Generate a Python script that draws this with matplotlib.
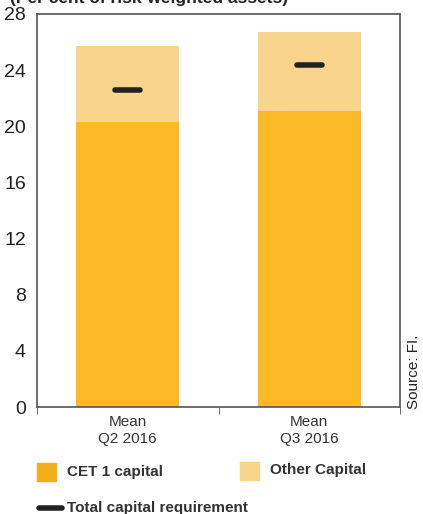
import matplotlib
matplotlib.use("Agg")
import matplotlib.pyplot as plt
from matplotlib.patches import Rectangle
from matplotlib.lines import Line2D

categories = ["Mean\nQ2 2016", "Mean\nQ3 2016"]
cet1 = [20.3, 21.1]
other = [5.4, 5.6]
requirement = [22.6, 24.4]

c_cet1 = "#FBB923"
c_other = "#F8D48C"
fam = ["Liberation Sans", "DejaVu Sans"]

fig = plt.figure(figsize=(4.23, 5.14), dpi=100)
ax = fig.add_axes([37 / 423, 107 / 514, 363 / 423, 393 / 514])

x = [0, 1]
ax.bar(x, cet1, width=0.57, color=c_cet1, zorder=2)
ax.bar(x, other, width=0.57, bottom=cet1, color=c_other, zorder=2)
for xi, r in zip(x, requirement):
    ax.plot([xi - 0.07, xi + 0.07], [r, r], color="#222222", lw=4,
            solid_capstyle="round", zorder=3)

ax.set_xlim(-0.5, 1.5)
ax.set_ylim(0, 28)
ax.set_yticks(range(0, 29, 4))
ax.set_xticks(x)
ax.set_xticklabels(categories, family=fam, fontsize=11, color="#333333")
ax.tick_params(axis="x", length=0, pad=6)
ax.set_xticks([-0.5, 0.5, 1.5], minor=True)
ax.tick_params(axis="x", which="minor", length=5, color="#555555", direction="out")
ax.tick_params(axis="y", length=0, labelsize=14, pad=8, labelcolor="#222222")
for lab in ax.get_yticklabels():
    lab.set_family(fam)
for s in ax.spines.values():
    s.set_color("#555555")
    s.set_linewidth(1.2)

# source on right
fig.text(414 / 423, 1 - 372 / 514, "Source: FI.", rotation=90, ha="center", va="center",
         fontsize=11, family=fam, color="#222222")

# title, cut off at the top like the original
fig.text(10 / 423, 1 + 1 / 514, "(Per cent of risk-weighted assets)", ha="left", va="center",
         fontsize=12.5, fontweight="bold", family=fam, color="#222222")

# legend
fig.patches.append(Rectangle((37 / 423, 1 - 481 / 514), 19 / 423, 18 / 514,
                             transform=fig.transFigure, color="#F0B016"))
fig.text(67 / 423, 1 - 472 / 514, "CET 1 capital", ha="left", va="center",
         fontsize=11, fontweight="bold", family=fam, color="#333333")
fig.patches.append(Rectangle((240 / 423, 1 - 480 / 514), 19 / 423, 18 / 514,
                             transform=fig.transFigure, color=c_other))
fig.text(270 / 423, 1 - 470 / 514, "Other Capital", ha="left", va="center",
         fontsize=11, fontweight="bold", family=fam, color="#333333")
fig.lines.append(Line2D([39 / 423, 62 / 423], [1 - 508 / 514, 1 - 508 / 514],
                        transform=fig.transFigure, color="#222222", lw=4,
                        solid_capstyle="round"))
fig.text(67 / 423, 1 - 508 / 514, "Total capital requirement", ha="left", va="center",
         fontsize=11, fontweight="bold", family=fam, color="#333333")

fig.savefig("out.png", dpi=100)
